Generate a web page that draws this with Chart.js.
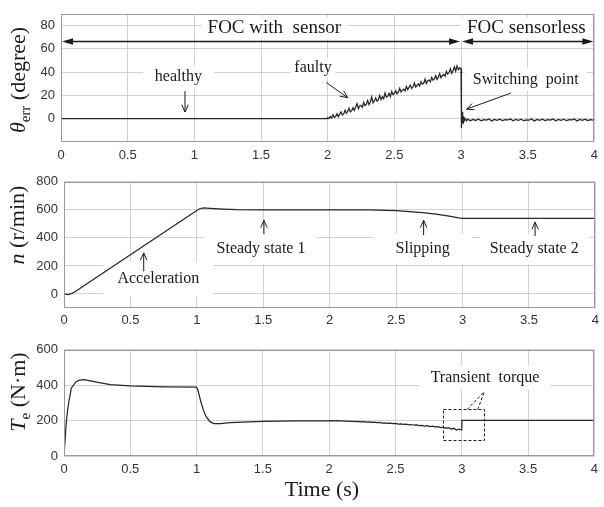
<!DOCTYPE html>
<html>
<head>
<meta charset="utf-8">
<script src="https://cdn.jsdelivr.net/npm/chart.js@4.4.0/dist/chart.umd.min.js"></script>
<style>
  body { margin: 0; background: #fff; width: 604px; height: 507px; position: relative; overflow: hidden; }
  canvas { position: absolute; left: 0; }
</style>
</head>
<body>
<canvas id="c1" width="604" height="168" style="top:0px"></canvas>
<canvas id="c2" width="604" height="172" style="top:168px"></canvas>
<canvas id="c3" width="604" height="171" style="top:336px"></canvas>
<script>
// shared time axis
const timeTicks = [0, 0.5, 1, 1.5, 2, 2.5, 3, 3.5, 4];

// panel 1 - angle error (degree)
const thetaTicks = [0, 20, 40, 60, 80];
const thetaHealthyT = [0, 2.0];
const thetaHealthy = [0, 0];
const faultStart = 2.0, faultStep = 0.01;
const thetaFaulty = [
  0.8, 0.2, 1.9, 0.6, 3.4, 1.1, 2.0, 4.2, 1.6, 3.9,
  5.8, 3.2, 4.1, 7.3, 4.6, 6.2, 8.9, 5.8, 6.9, 9.4,
  7.1, 10.2, 12.9, 8.6, 10.9, 11.5, 9.8, 13.9, 11.2, 12.4,
  15.6, 12.1, 14.3, 18.7, 13.5, 15.2, 17.8, 15.0, 16.2, 19.8,
  16.4, 18.9, 17.2, 22.0, 18.6, 19.3, 21.7, 19.0, 23.4, 20.8,
  21.6, 23.9, 21.3, 22.8, 26.1, 22.9, 24.5, 25.3, 23.8, 27.6,
  25.0, 26.9, 28.8, 25.9, 27.4, 30.6, 27.2, 28.5, 29.9, 28.1,
  31.8, 29.6, 30.4, 33.9, 30.2, 32.5, 33.1, 31.6, 35.4, 33.0,
  34.2, 36.9, 33.8, 35.6, 38.7, 35.1, 37.2, 38.0, 36.4, 40.6,
  38.3, 39.6, 42.8, 38.9, 41.2, 44.6, 40.8, 45.3, 42.1, 43.6
];
const thetaSwitchT = [3.0, 3.001, 3.003, 3.005, 3.008, 3.012, 3.016, 3.02, 3.03, 3.04];
const thetaSwitch = [43, 18, 4, -8, 6, -4, 2, -2.6, 0.2, -1.8];
const sensorlessStart = 3.05, sensorlessStep = 0.02;
const thetaSensorless = [
  -0.4, -1.7, -0.6, -1.5, -0.3, -1.8, -0.8, -1.2, -0.2, -1.9,
  -0.7, -1.4, -0.5, -1.6, -0.9, -1.1, -0.3, -1.8, -0.6, -1.5,
  -0.4, -1.7, -1.0, -1.3, -0.2, -1.9, -0.7, -1.4, -0.5, -1.6,
  -0.8, -1.2, -0.3, -1.8, -0.6, -1.5, -0.4, -1.7, -0.9, -1.1,
  -0.2, -1.9, -0.7, -1.4, -0.5, -1.6, -0.8, -1.3, -0.6
];

// panel 2 - speed (r/min)
const speedTicks = [0, 200, 400, 600, 800];
const speedT = [0, 0.03, 0.06, 0.1, 0.15, 0.5, 1.0, 1.02, 1.05, 1.1, 1.2, 1.3, 1.5, 2.0, 2.3, 2.5, 2.6, 2.7, 2.8, 2.9, 2.97, 3.0, 4.0];
const speed = [0, -4, 4, 26, 58, 280, 596, 608, 614, 611, 605, 601, 600, 600, 599, 594, 588, 580, 569, 555, 543, 539, 539];

// panel 3 - torque (N.m)
const torqueTicks = [0, 200, 400, 600];
const torqueT = [0, 0.017, 0.03, 0.055, 0.092, 0.12, 0.154, 0.2, 0.265, 0.35, 0.5, 0.75, 1.0, 1.01, 1.03, 1.05, 1.07, 1.1, 1.13, 1.18, 1.25, 1.5, 1.75];
const torque = [0, 189, 277, 383, 421, 429, 431, 425, 414, 403, 396, 391, 389, 372, 312, 262, 225, 194, 183, 183, 188, 196, 199];
const torqueSlipStart = 2.0, torqueSlipStep = 0.02;
const torqueSlip = [
  199.0, 199.5, 198.6, 199.2, 198.1, 197.9, 197.0, 197.6, 196.1, 195.8,
  194.2, 195.3, 193.0, 193.9, 191.6, 192.5, 190.2, 190.9, 188.4, 189.3,
  186.1, 187.4, 184.2, 185.6, 182.3, 183.8, 180.1, 181.9, 178.2, 180.0,
  176.3, 177.9, 173.8, 175.7, 171.6, 173.4, 169.0, 171.2, 166.3, 168.8,
  164.1, 166.0, 160.8, 163.2, 156.9, 160.4, 151.8, 156.6, 146.5, 152.0
];
const torqueStepT = [2.995, 3.0, 3.0005, 4.0];
const torqueStep = [147, 150, 201, 201];

const serif = '"Liberation Serif", "Times New Roman", serif';
const sans = '"Liberation Sans", Arial, sans-serif';
const ink = '#1a1a1a';

function pairs(ts, vs) { return ts.map((t, i) => ({ x: t, y: vs[i] })); }
function stepped(t0, dt, vs) { return vs.map((v, i) => ({ x: +(t0 + i * dt).toFixed(4), y: v })); }

// annotations, in data units
const notes1 = {
  labels: [
    { x: 1.6, y: 77.5, text: 'FOC with  sensor', size: 19, padX: 6, boxH: 22 },
    { x: 3.49, y: 77.5, text: 'FOC sensorless', size: 19, padX: 6, boxH: 22 },
    { x: 0.88, y: 36, text: 'healthy', padX: 12, boxH: 22 },
    { x: 1.89, y: 44, text: 'faulty', padX: 4, boxH: 20 },
    { x: 3.485, y: 33.5, text: 'Switching  point', padX: 8, boxH: 22 }
  ],
  arrows: [
    { from: [0.93, 23.7], to: [0.93, 5.7] },
    { from: [1.99, 31], to: [2.15, 18] },
    { from: [3.374, 22], to: [3.041, 8.2] }
  ],
  spans: [{ from: 0, to: 3, y: 67 }, { from: 3, to: 4, y: 67 }]
};
const notes2 = {
  labels: [
    { x: 0.71, y: 108, text: 'Acceleration', padX: 14, boxH: 34 },
    { x: 1.483, y: 320, text: 'Steady state 1', padX: 12, boxH: 30 },
    { x: 2.7, y: 320, text: 'Slipping', padX: 22, boxH: 30 },
    { x: 3.54, y: 320, text: 'Steady state 2', padX: 10, boxH: 30 }
  ],
  arrows: [
    { from: [0.6, 161], to: [0.6, 293] },
    { from: [1.505, 426], to: [1.505, 525] },
    { from: [2.707, 419], to: [2.707, 525] },
    { from: [3.546, 413], to: [3.546, 512] }
  ]
};
const notes3 = {
  labels: [
    { x: 3.175, y: 442, text: 'Transient  torque', padX: 11, boxH: 24 }
  ],
  dashBox: { x0: 2.86, x1: 3.17, y0: 89, y1: 263 },
  dashLines: [
    { from: [3.04, 263], to: [3.17, 363] },
    { from: [3.12, 263], to: [3.17, 363] }
  ]
};

function openHead(ctx, x0, y0, x1, y1) {
  const a = Math.atan2(y1 - y0, x1 - x0), L = 8, s = 0.42;
  ctx.beginPath();
  ctx.moveTo(x1 - L * Math.cos(a - s), y1 - L * Math.sin(a - s));
  ctx.lineTo(x1, y1);
  ctx.lineTo(x1 - L * Math.cos(a + s), y1 - L * Math.sin(a + s));
  ctx.stroke();
}
function solidHead(ctx, x1, y, dir) {
  ctx.beginPath();
  ctx.moveTo(x1, y);
  ctx.lineTo(x1 - dir * 11, y - 3.2);
  ctx.lineTo(x1 - dir * 11, y + 3.2);
  ctx.closePath();
  ctx.fill();
}

function notesPlugin(notes) {
  return {
    id: 'notes',
    beforeDatasetsDraw(chart) {
      const { ctx, chartArea: a } = chart;
      const xs = chart.scales.x, ys = chart.scales.y;
      ctx.save();
      ctx.beginPath(); ctx.rect(a.left + 1, a.top + 1, a.right - a.left - 2, a.bottom - a.top - 2); ctx.clip();
      ctx.fillStyle = '#fff';
      (notes.labels || []).forEach(l => {
        ctx.font = (l.size || 16) + 'px ' + serif;
        const w = ctx.measureText(l.text).width;
        const px = xs.getPixelForValue(l.x), py = ys.getPixelForValue(l.y);
        ctx.fillRect(px - w / 2 - l.padX, py - l.boxH / 2, w + 2 * l.padX, l.boxH);
      });
      ctx.restore();
    },
    afterDatasetsDraw(chart) {
      const { ctx, chartArea: a } = chart;
      const xs = chart.scales.x, ys = chart.scales.y;
      const P = p => [xs.getPixelForValue(p[0]), ys.getPixelForValue(p[1])];
      ctx.save();
      ctx.fillStyle = ink; ctx.strokeStyle = ink; ctx.lineWidth = 1;
      ctx.textAlign = 'center'; ctx.textBaseline = 'middle';
      (notes.labels || []).forEach(l => {
        ctx.font = (l.size || 16) + 'px ' + serif;
        ctx.fillText(l.text, xs.getPixelForValue(l.x), ys.getPixelForValue(l.y));
      });
      (notes.arrows || []).forEach(ar => {
        const [x0, y0] = P(ar.from), [x1, y1] = P(ar.to);
        ctx.beginPath(); ctx.moveTo(x0, y0); ctx.lineTo(x1, y1); ctx.stroke();
        openHead(ctx, x0, y0, x1, y1);
      });
      (notes.spans || []).forEach(s => {
        const y = Math.round(ys.getPixelForValue(s.y)) + 0.5;
        const x0 = xs.getPixelForValue(s.from) + 1, x1 = xs.getPixelForValue(s.to) - 1;
        ctx.lineWidth = 1.3;
        ctx.beginPath(); ctx.moveTo(x0 + 4, y); ctx.lineTo(x1 - 4, y); ctx.stroke();
        solidHead(ctx, x0, y, -1);
        solidHead(ctx, x1, y, 1);
      });
      ctx.lineWidth = 1;
      ctx.setLineDash([3, 2]);
      if (notes.dashBox) {
        const b = notes.dashBox;
        const x0 = Math.round(xs.getPixelForValue(b.x0)) + 0.5, x1 = Math.round(xs.getPixelForValue(b.x1)) + 0.5;
        const y0 = Math.round(ys.getPixelForValue(b.y0)) + 0.5, y1 = Math.round(ys.getPixelForValue(b.y1)) + 0.5;
        ctx.strokeRect(x0, y1, x1 - x0, y0 - y1);
      }
      (notes.dashLines || []).forEach(d => {
        const [x0, y0] = P(d.from), [x1, y1] = P(d.to);
        ctx.beginPath(); ctx.moveTo(x0, y0); ctx.lineTo(x1, y1); ctx.stroke();
      });
      ctx.setLineDash([]);
      // axes box
      ctx.strokeStyle = '#9a9a9a';
      ctx.strokeRect(Math.round(a.left) + 0.5, Math.round(a.top) + 0.5,
        Math.round(a.right - a.left) - 1, Math.round(a.bottom - a.top) - 1);
      ctx.restore();
    }
  };
}

// rotated y title made of runs (for italics / subscripts)
function titlePlugin(runs, cx, cy) {
  return {
    id: 'ytitle',
    afterDraw(chart) {
      const ctx = chart.ctx;
      ctx.save();
      ctx.translate(cx, cy);
      ctx.rotate(-Math.PI / 2);
      ctx.fillStyle = ink;
      ctx.textBaseline = 'alphabetic';
      let total = 0;
      runs.forEach(r => { ctx.font = r.font; total += ctx.measureText(r.t).width; });
      let x = -total / 2;
      runs.forEach(r => {
        ctx.font = r.font;
        ctx.fillText(r.t, x, 7 + (r.dy || 0));
        x += ctx.measureText(r.t).width;
      });
      ctx.restore();
    }
  };
}

const xLabelPlugin = {
  id: 'xlabel',
  afterDraw(chart) {
    const ctx = chart.ctx;
    ctx.save();
    ctx.font = '22px ' + serif;
    ctx.fillStyle = ink;
    ctx.textAlign = 'center'; ctx.textBaseline = 'middle';
    ctx.fillText('Time (s)', 322, 154);
    ctx.restore();
  }
};

function makeChart(id, data, yMin, yMax, yTicks, area, plugins) {
  return new Chart(document.getElementById(id), {
    type: 'line',
    data: {
      datasets: [{
        data: data, borderColor: '#262626', borderWidth: 1.25,
        pointRadius: 0, tension: 0, fill: false
      }]
    },
    options: {
      responsive: false, animation: false, events: [],
      layout: { padding: { left: 0, right: area.padR, top: area.padT, bottom: 0 } },
      plugins: { legend: { display: false }, tooltip: { enabled: false } },
      scales: {
        x: {
          type: 'linear', min: 0, max: 4,
          afterBuildTicks: s => { s.ticks = timeTicks.map(v => ({ value: v })); },
          afterFit: s => { s.height = area.xH; },
          grid: { color: '#d2d2d2', drawTicks: false },
          border: { display: false },
          ticks: { padding: area.xPad, color: '#333', font: { family: sans, size: 13 }, maxRotation: 0, autoSkip: false, callback: v => String(v) }
        },
        y: {
          type: 'linear', min: yMin, max: yMax,
          afterBuildTicks: s => { s.ticks = yTicks.map(v => ({ value: v })); },
          afterFit: s => { s.width = area.yW; },
          grid: { color: '#d2d2d2', drawTicks: false },
          border: { display: false },
          ticks: { padding: 6, color: '#333', font: { family: sans, size: 13 }, autoSkip: false, callback: v => String(v) }
        }
      }
    },
    plugins: plugins
  });
}

const thetaData = pairs(thetaHealthyT, thetaHealthy)
  .concat(stepped(faultStart, faultStep, thetaFaulty))
  .concat(pairs(thetaSwitchT, thetaSwitch))
  .concat(stepped(sensorlessStart, sensorlessStep, thetaSensorless));
const speedData = pairs(speedT, speed);
const torqueData = pairs(torqueT, torque)
  .concat(stepped(torqueSlipStart, torqueSlipStep, torqueSlip))
  .concat(pairs(torqueStepT, torqueStep));

makeChart('c1', thetaData, -20, 90, thetaTicks,
  { padR: 3, padT: 6, xH: 26, yW: 61, xPad: 6 },
  [notesPlugin(notes1), titlePlugin([
    { t: '\u03b8', font: 'italic 22px ' + serif },
    { t: 'err', font: '15px ' + serif, dy: 5 },
    { t: ' (degree)', font: '22px ' + serif }
  ], 18, 80)]);

makeChart('c2', speedData, -100, 800, speedTicks,
  { padR: 1, padT: 6, xH: 32, yW: 64, xPad: 5 },
  [notesPlugin(notes2), titlePlugin([
    { t: 'n', font: 'italic 22px ' + serif },
    { t: ' (r/min)', font: '22px ' + serif }
  ], 17, 57)]);

makeChart('c3', torqueData, 0, 600, torqueTicks,
  { padR: 1, padT: 6, xH: 51, yW: 64, xPad: 6 },
  [notesPlugin(notes3), titlePlugin([
    { t: 'T', font: 'italic 22px ' + serif },
    { t: 'e', font: '15px ' + serif, dy: 5 },
    { t: ' (N\u00b7m)', font: '22px ' + serif }
  ], 18, 56), xLabelPlugin]);
</script>
</body>
</html>
